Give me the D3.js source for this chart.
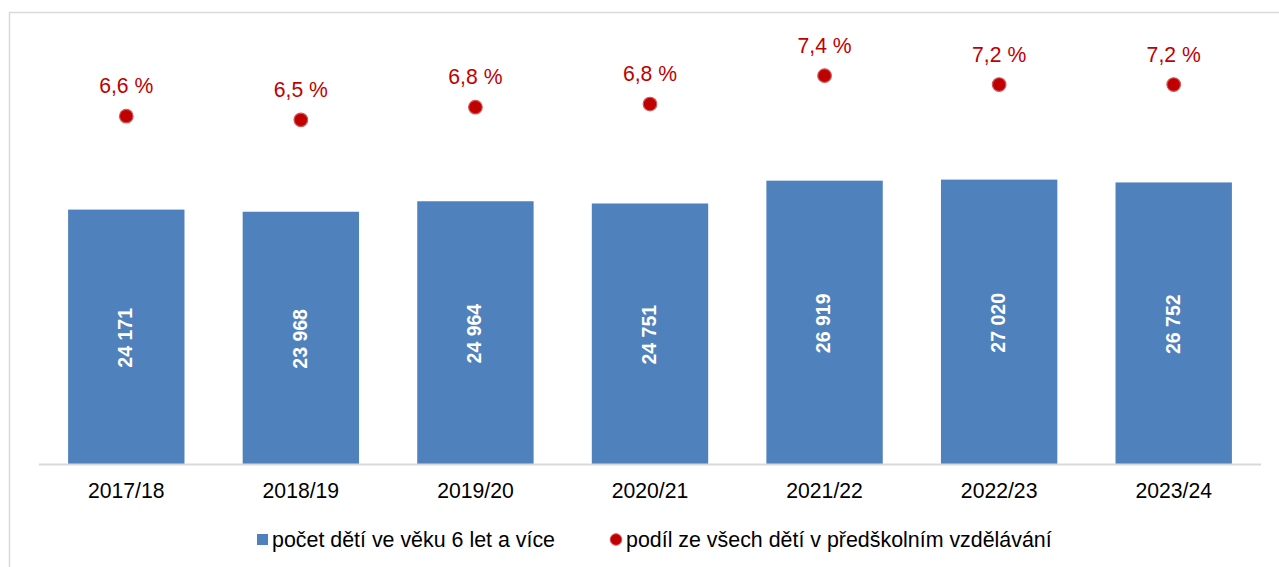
<!DOCTYPE html>
<html>
<head>
<meta charset="utf-8">
<script src="https://cdn.jsdelivr.net/npm/d3@7"></script>
<style>
  html, body { margin: 0; padding: 0; background: #fff; }
  svg { display: block; font-family: "Liberation Sans", Arial, sans-serif; }
</style>
</head>
<body>
<svg id="chart" width="1279" height="567"></svg>
<script>
const categories = ["2017/18", "2018/19", "2019/20", "2020/21", "2021/22", "2022/23", "2023/24"];
const childCounts = [24171, 23968, 24964, 24751, 26919, 27020, 26752];
const shareValues = [6.61, 6.54, 6.78, 6.84, 7.38, 7.21, 7.21];
const legendLabels = ["počet dětí ve věku 6 let a více", "podíl ze všech dětí v předškolním vzdělávání"];

const barColor = "#4f81bd";
const dotColor = "#c00000";

const svg = d3.select("#chart");

// chart frame
svg.append("rect")
  .attr("x", 9.5).attr("y", 12.5)
  .attr("width", 1400).attr("height", 700)
  .attr("fill", "#fff").attr("stroke", "#d9d9d9").attr("stroke-width", 1.5);

const plot = { left: 39, right: 1261, top: 43, bottom: 464 };

const x = d3.scaleBand()
  .domain(categories)
  .range([plot.left, plot.right])
  .paddingInner(1 / 3)
  .paddingOuter(1 / 6);

const y = d3.scaleLinear().domain([0, 40000]).range([plot.bottom, plot.top]);
const y2 = d3.scaleLinear().domain([0, 8]).range([plot.bottom, plot.top]);

// bars
svg.append("g").selectAll("rect")
  .data(childCounts)
  .join("rect")
  .attr("x", (d, i) => x(categories[i]))
  .attr("y", d => y(d))
  .attr("width", x.bandwidth())
  .attr("height", d => y(0) - y(d))
  .attr("fill", barColor);

// bar labels
const fmtCount = d => d3.format(",")(d).replace(/,/g, " ");
svg.append("g").selectAll("text")
  .data(childCounts)
  .join("text")
  .attr("transform", (d, i) => {
    const cx = x(categories[i]) + x.bandwidth() / 2 - 1;
    const cy = (y(d) + y(0)) / 2 + 1;
    return `translate(${cx},${cy}) rotate(-90)`;
  })
  .attr("text-anchor", "middle")
  .attr("dy", "0.35em")
  .attr("fill", "#fff")
  .attr("font-weight", "bold")
  .attr("font-size", 19.5)
  .text(fmtCount);

// x axis
const xAxis = svg.append("g")
  .attr("transform", `translate(0,${plot.bottom})`)
  .call(d3.axisBottom(x).tickSize(0).tickPadding(0));
xAxis.select(".domain").attr("stroke", "#d9d9d9").attr("stroke-width", 2)
  .attr("d", `M${plot.left},0.5H${plot.right}`);
xAxis.selectAll(".tick text")
  .attr("font-size", 21.2)
  .attr("fill", "#000")
  .attr("font-family", "'Liberation Sans', Arial, sans-serif")
  .attr("dy", null)
  .attr("y", 34);

// dots
svg.append("g").selectAll("circle")
  .data(shareValues)
  .join("circle")
  .attr("cx", (d, i) => x(categories[i]) + x.bandwidth() / 2)
  .attr("cy", d => y2(d))
  .attr("r", 6.8)
  .attr("fill", dotColor)
  .attr("stroke", "#d0595b")
  .attr("stroke-width", 1.2);

// dot labels
svg.append("g").selectAll("text")
  .data(shareValues)
  .join("text")
  .attr("x", (d, i) => x(categories[i]) + x.bandwidth() / 2)
  .attr("y", d => y2(d) - 23)
  .attr("text-anchor", "middle")
  .attr("fill", dotColor)
  .attr("font-size", 21.2)
  .text(d => d.toFixed(1).replace(".", ",") + " %");

// legend
const legend = svg.append("g");
legend.append("rect")
  .attr("x", 257).attr("y", 534)
  .attr("width", 11).attr("height", 11)
  .attr("fill", barColor);
legend.append("text")
  .attr("x", 272).attr("y", 546.5)
  .attr("font-size", 21.4).attr("fill", "#000")
  .text(legendLabels[0]);
legend.append("circle")
  .attr("cx", 616).attr("cy", 539.5).attr("r", 5.8)
  .attr("fill", dotColor).attr("stroke", "#d0595b").attr("stroke-width", 1);
legend.append("text")
  .attr("x", 626).attr("y", 546.5)
  .attr("font-size", 21.4).attr("fill", "#000")
  .text(legendLabels[1]);
</script>
</body>
</html>
